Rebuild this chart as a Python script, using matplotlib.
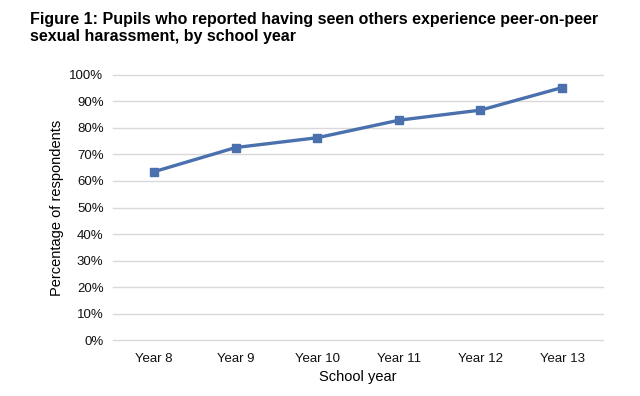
import matplotlib
matplotlib.use("Agg")
import matplotlib.pyplot as plt
from matplotlib.ticker import PercentFormatter

plt.rcParams['font.family'] = ['Liberation Sans', 'DejaVu Sans']

# Data
years = ['Year 8', 'Year 9', 'Year 10', 'Year 11', 'Year 12', 'Year 13']
pct_seen = [63.5, 72.6, 76.3, 82.9, 86.7, 95.2]
y_ticks = [0, 10, 20, 30, 40, 50, 60, 70, 80, 90, 100]

# Figure
fig = plt.figure(figsize=(6.4, 3.96), dpi=100)
ax = fig.add_axes([0.177, 0.141, 0.765, 0.670])

ax.plot(range(len(years)), pct_seen, color='#4a71ad', lw=2.4,
        marker='s', markersize=6, zorder=3)

ax.set_xlim(-0.5, len(years) - 0.5)
ax.set_ylim(0, 100)
ax.set_yticks(y_ticks)
ax.yaxis.set_major_formatter(PercentFormatter(decimals=0))
ax.set_xticks(range(len(years)))
ax.set_xticklabels(years)
ax.tick_params(length=0, labelsize=9.5, colors='#111111', pad=7)
ax.tick_params(axis='x', pad=9)

ax.grid(axis='y', color='#d9d9d9', lw=1)
for gl in ax.get_ygridlines():
    gl.set_clip_on(False)
ax.set_axisbelow(True)
for s in ax.spines.values():
    s.set_visible(False)

ax.set_xlabel('School year', fontsize=10.5, labelpad=4)
ax.set_ylabel('Percentage of respondents', fontsize=10.5, labelpad=4)

# Title
fig.text(30 / 640, 1 - 12 / 396,
         'Figure 1: Pupils who reported having seen others experience peer-on-peer\n'
         'sexual harassment, by school year',
         fontsize=11.5, fontweight='bold', ha='left', va='top', linespacing=1.2)

fig.savefig('out.png', dpi=100)
